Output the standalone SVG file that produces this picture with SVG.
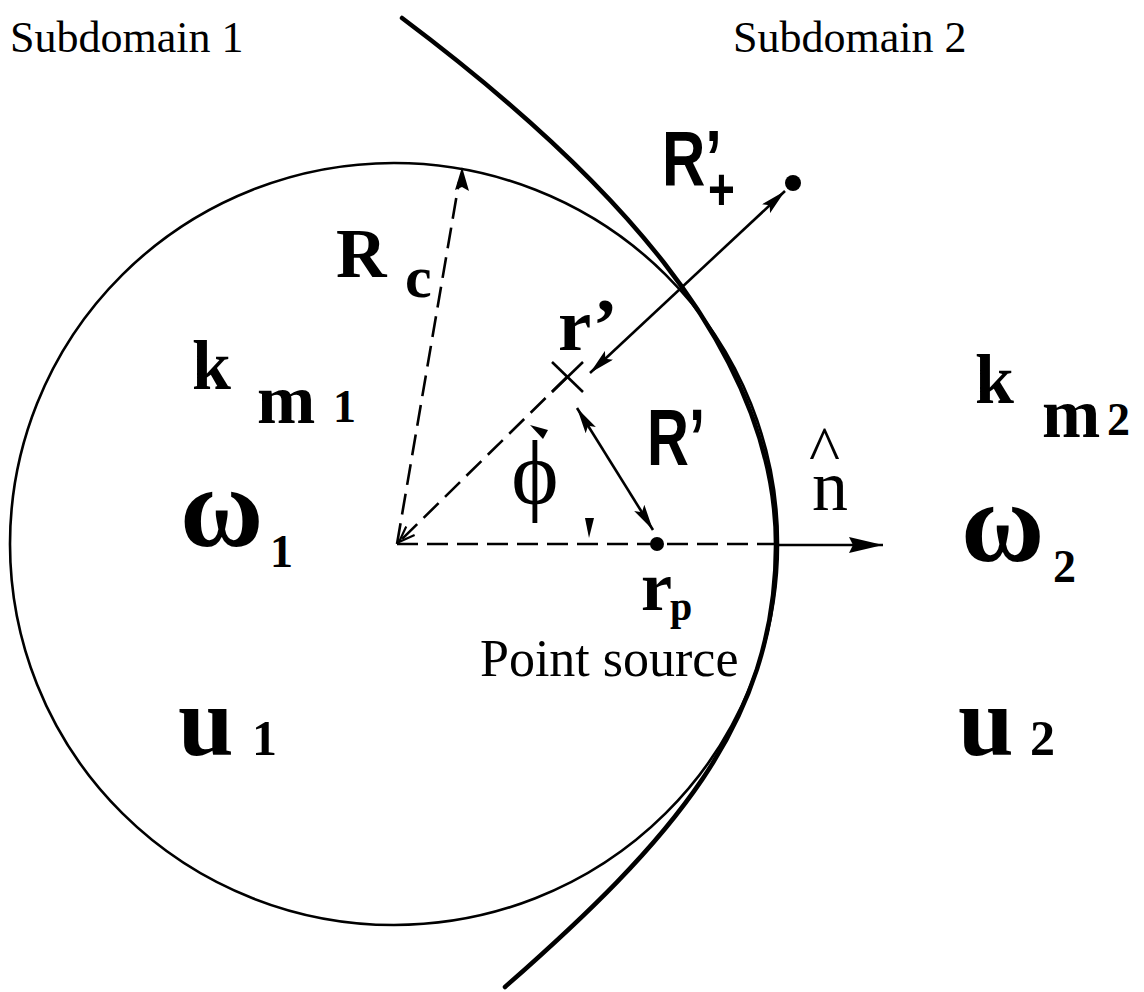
<svg xmlns="http://www.w3.org/2000/svg" width="1144" height="992" viewBox="0 0 1144 992">
<style>
.serif{font-family:"Liberation Serif","Times New Roman",serif;fill:#000}
.bs{font-family:"Liberation Serif","Times New Roman",serif;font-weight:bold;fill:#000}
.sans{font-family:"Liberation Sans",Arial,sans-serif;font-weight:bold;fill:#000}
.dash{fill:none;stroke:#000;stroke-width:2.6;stroke-dasharray:21 9}
.ln{fill:none;stroke:#000;stroke-width:2.6}
</style>
<defs>
<marker id="ah" viewBox="0 0 26 12" refX="26" refY="6" markerWidth="26" markerHeight="12" markerUnits="userSpaceOnUse" orient="auto-start-reverse">
<path d="M0,0 L26,6 L0,12 L5,6 Z" fill="#000"/>
</marker>
<marker id="ahn" viewBox="0 0 34 16" refX="34" refY="8" markerWidth="34" markerHeight="16" markerUnits="userSpaceOnUse" orient="auto">
<path d="M0,0 L34,8 L0,16 L4,8 Z" fill="#000"/>
</marker>
<marker id="aho" viewBox="0 0 18 14" refX="17" refY="7" markerWidth="18" markerHeight="14" markerUnits="userSpaceOnUse" orient="auto">
<path d="M1,1 L17,7 L1,13" fill="none" stroke="#000" stroke-width="2.2"/>
</marker>
</defs>
<rect width="1144" height="992" fill="#fff"/>

<g id="subdomain-boundary">
<path d="M402,18 C602,168 776,345 776,545 C776,725 670,842 505,987" fill="none" stroke="#000" stroke-width="4.5" stroke-linecap="round"/>
</g>
<g id="circle">
<ellipse cx="394" cy="544" rx="384" ry="381" fill="none" stroke="#000" stroke-width="2.6"/>
</g>

<g id="connectors">
<line class="dash" x1="397" y1="544" x2="775" y2="544"/>
<line class="dash" x1="397" y1="544" x2="459" y2="182"/>
<path d="M462,167 L469,191 L462,187 L455,190 Z" fill="#000"/>
<line class="dash" x1="567" y1="377" x2="399" y2="542" marker-end="url(#aho)"/>
<line class="ln" x1="775" y1="545" x2="883" y2="545" marker-end="url(#ahn)"/>
<line class="ln" x1="590" y1="373" x2="785" y2="191" marker-start="url(#ah)" marker-end="url(#ah)"/>
<line class="ln" x1="577" y1="408" x2="653" y2="530" marker-start="url(#ah)" marker-end="url(#ah)"/>
<polygon points="530,425 548,430 543,439" fill="#000"/>
<polygon points="585,518 594,518 589,538" fill="#000"/>
</g>

<g id="r-prime-point">
<line class="ln" x1="552" y1="362" x2="583" y2="392" stroke-width="3"/>
<line class="ln" x1="583" y1="362" x2="552" y2="392" stroke-width="3"/>
</g>
<g id="r-plus-point"><circle cx="793" cy="183" r="8" fill="#000"/></g>
<g id="point-source"><circle cx="657" cy="544" r="7" fill="#000"/></g>

<g id="labels">
<text class="serif" x="10" y="52" font-size="44">Subdomain 1</text>
<text class="serif" x="733" y="52" font-size="44">Subdomain 2</text>
<text class="bs" x="336" y="277" font-size="70">R</text>
<text class="bs" x="405" y="297" font-size="60">c</text>
<text class="sans" transform="translate(662,185) scale(1,1.3)" font-size="60">R’<tspan dx="-14" dy="19" font-size="46">+</tspan></text>
<text class="bs" x="558" y="350" font-size="75">r’</text>
<text class="sans" transform="translate(647,465) scale(1,1.37)" font-size="58">R’</text>
<text class="serif" x="535" y="504" font-size="90" text-anchor="middle">ϕ</text>
<text class="serif" x="812" y="510" font-size="72">n</text>
<text class="serif" x="809" y="472" font-size="66">^</text>
<text class="bs" x="192" y="389" font-size="70">k</text>
<text class="bs" x="257" y="423" font-size="70">m</text>
<text class="bs" x="333" y="422" font-size="46">1</text>
<text class="bs" x="975" y="403" font-size="70">k</text>
<text class="bs" x="1042" y="437" font-size="70">m</text>
<text class="bs" x="1107" y="435" font-size="46">2</text>
<text class="bs" x="180" y="546" font-size="114">ω</text>
<text class="bs" x="270" y="567" font-size="46">1</text>
<text class="bs" x="961" y="561" font-size="114">ω</text>
<text class="bs" x="1053" y="582" font-size="46">2</text>
<text class="bs" x="641" y="610" font-size="70">r</text>
<text class="bs" x="670" y="620" font-size="40">p</text>
<text class="serif" x="480" y="676" font-size="52">Point source</text>
<text class="bs" x="178" y="755" font-size="100">u</text>
<text class="bs" x="252" y="755" font-size="50">1</text>
<text class="bs" x="958" y="755" font-size="100">u</text>
<text class="bs" x="1030" y="755" font-size="50">2</text>
</g>
</svg>
